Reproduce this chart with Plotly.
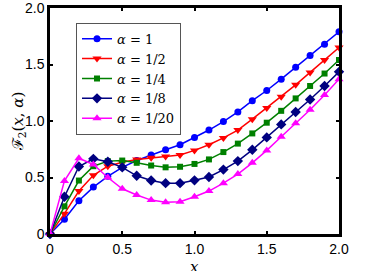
import plotly.graph_objects as go

x_vals = [round(i * 0.1, 1) for i in range(21)]

alpha_1 = [0, 0.13, 0.295, 0.415, 0.51, 0.59, 0.65, 0.70, 0.745, 0.79, 0.855,
           0.92, 0.995, 1.08, 1.18, 1.27, 1.37, 1.475, 1.58, 1.68, 1.79]
alpha_1_2 = [0, 0.18, 0.38, 0.52, 0.60, 0.635, 0.66, 0.675, 0.685, 0.70, 0.74,
             0.79, 0.85, 0.92, 1.016, 1.115, 1.215, 1.32, 1.43, 1.54, 1.65]
alpha_1_4 = [0, 0.245, 0.473, 0.60, 0.645, 0.65, 0.63, 0.606, 0.59, 0.595, 0.62,
             0.66, 0.725, 0.80, 0.89, 0.985, 1.09, 1.20, 1.31, 1.42, 1.54]
alpha_1_8 = [0, 0.33, 0.597, 0.665, 0.64, 0.59, 0.515, 0.473, 0.45, 0.45, 0.475,
             0.505, 0.57, 0.645, 0.745, 0.855, 0.97, 1.08, 1.19, 1.31, 1.435]
alpha_1_20 = [0, 0.47, 0.67, 0.615, 0.50, 0.40, 0.345, 0.30, 0.28, 0.285, 0.33,
              0.38, 0.45, 0.53, 0.63, 0.74, 0.86, 0.98, 1.10, 1.23, 1.37]

series_names = ["<i>α</i> = 1", "<i>α</i> = 1/2", "<i>α</i> = 1/4", "<i>α</i> = 1/8", "<i>α</i> = 1/20"]
series_data = [alpha_1, alpha_1_2, alpha_1_4, alpha_1_8, alpha_1_20]
colors = ["#0000FF", "#FF0000", "#008000", "#000080", "#FF00FF"]
symbols = ["circle", "triangle-down", "square", "diamond", "triangle-up"]
sizes = [7, 8, 6, 8, 8]

tick_vals = [0, 0.5, 1.0, 1.5, 2.0]
tick_text = ["0", "0.5", "1.0", "1.5", "2.0"]

fig = go.Figure()
for name, ys, c, s, sz in zip(series_names, series_data, colors, symbols, sizes):
    fig.add_trace(go.Scatter(
        x=x_vals, y=ys, name=name, mode="lines+markers",
        line=dict(color=c, width=1.5),
        marker=dict(color=c, symbol=s, size=sz, line=dict(width=0)),
        cliponaxis=False,
    ))

axis_common = dict(
    range=[0, 2], tickvals=tick_vals, ticktext=tick_text,
    showline=True, linecolor="black", linewidth=2.5, mirror="ticks",
    ticks="inside", ticklen=3, tickwidth=1.5, tickcolor="black",
    showgrid=False, zeroline=False, automargin=False,
    ticklabeloverflow="allow",
    tickfont=dict(family="Liberation Sans, Arial, sans-serif", size=14, color="black"),
)

title_font = dict(family="DejaVu Serif, serif", size=15, color="black")

fig.update_layout(
    width=374, height=271,
    margin=dict(l=50, r=35, t=8, b=37),
    paper_bgcolor="white", plot_bgcolor="white",
    xaxis=dict(**axis_common),
    yaxis=dict(**axis_common),
    legend=dict(
        x=0.09, y=0.935, xanchor="left", yanchor="top",
        bgcolor="white", bordercolor="#555555", borderwidth=1,
        font=dict(family="DejaVu Serif, serif", size=13, color="black"),
        tracegroupgap=0, itemwidth=30,
    ),
    showlegend=True,
    annotations=[
        dict(text="ℱ<sub>2</sub>(<i>x</i>, <i>α</i>)", textangle=-90,
             xref="paper", yref="paper", x=-0.11, y=0.5,
             xanchor="center", yanchor="middle", showarrow=False, font=title_font),
        dict(text="<i>x</i>",
             xref="paper", yref="paper", x=0.5, y=-0.145,
             xanchor="center", yanchor="middle", showarrow=False, font=title_font),
    ],
)

fig.write_html("out.html", config={"displayModeBar": False},
               post_script="document.body.style.margin='0';document.body.style.padding='0';")
